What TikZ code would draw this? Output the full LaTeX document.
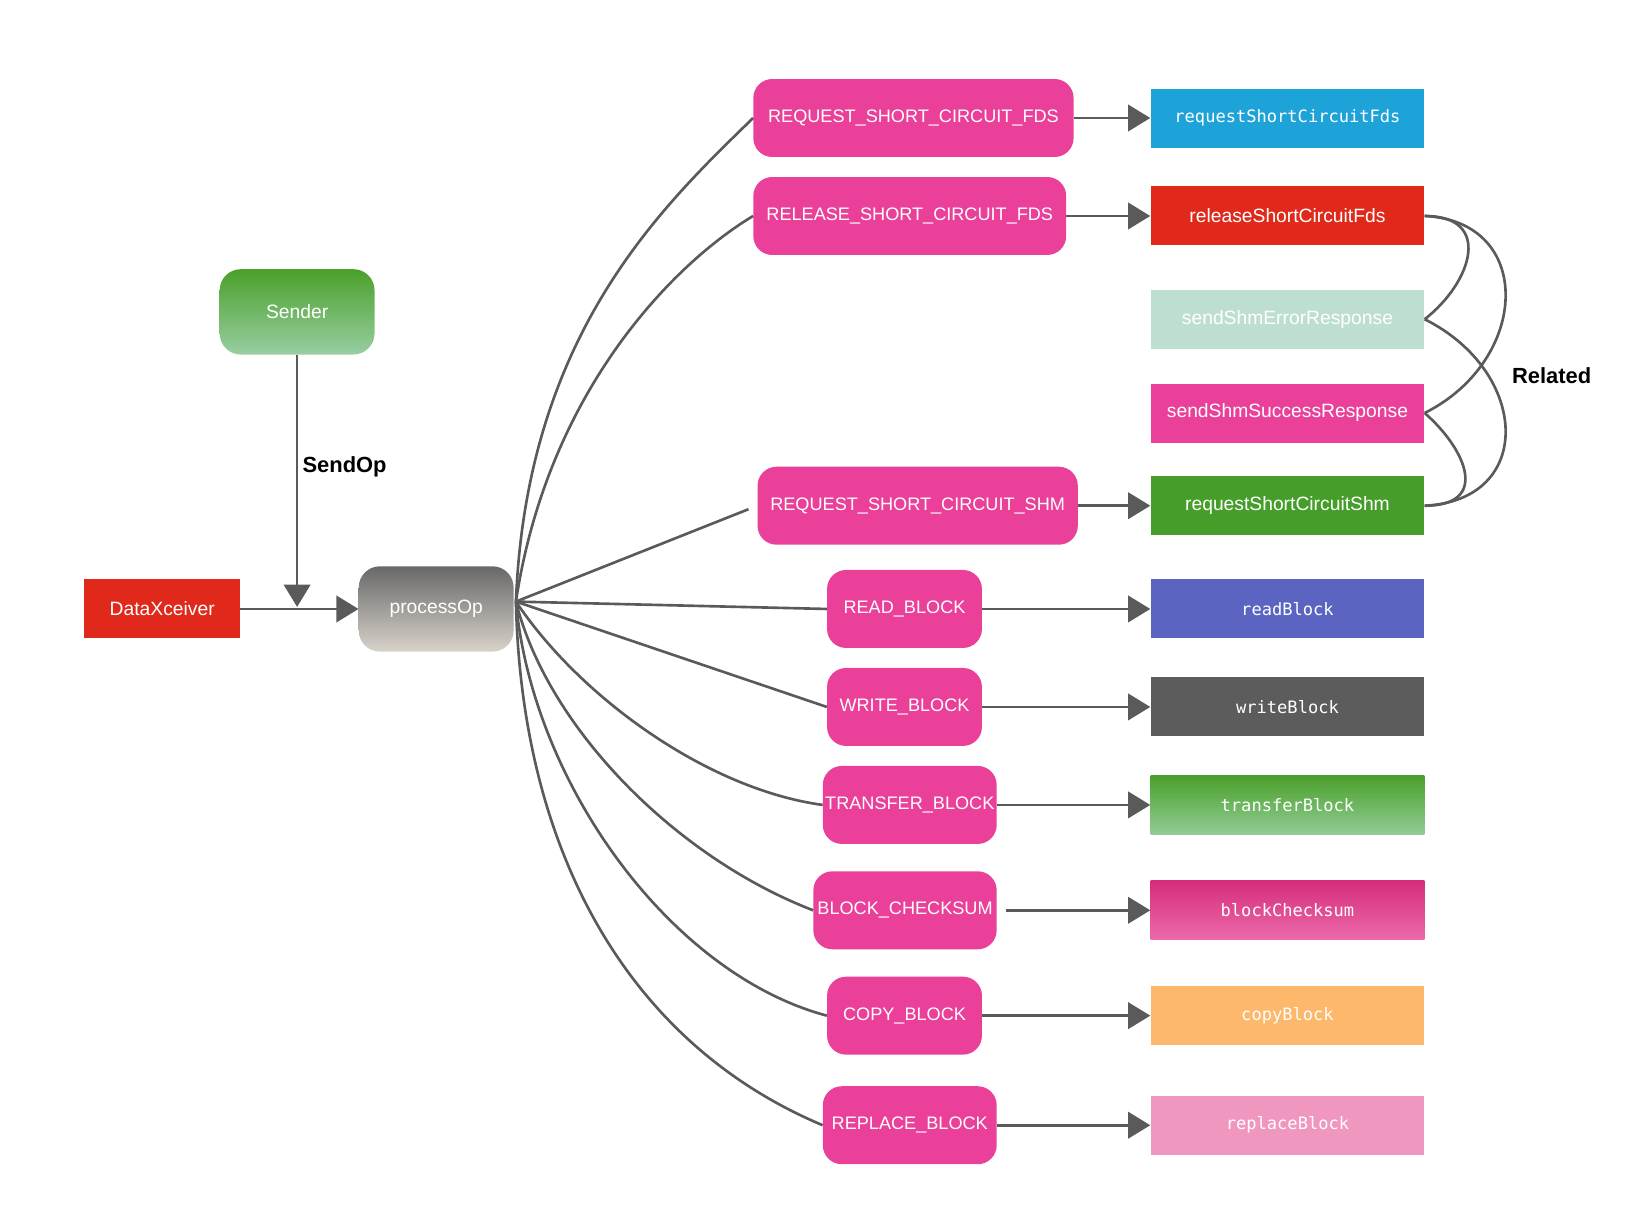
\documentclass[tikz,border=0pt]{standalone}
\usepackage{fontspec}
\setmainfont{Liberation Sans}
\newfontfamily\codefont{DejaVu Sans Mono}
\usetikzlibrary{arrows.meta}

\begin{document}
\begin{tikzpicture}[x=1pt,y=1pt,yscale=-1,xscale=1,
  op/.style={rounded corners=18pt, fill={rgb, 255:red, 234; green, 64; blue, 154 }, text=white, minimum height=74pt, inner xsep=2pt, font=\fontsize{17.2}{20}\selectfont},
  fn/.style={minimum width=260pt, minimum height=56pt, inner sep=0pt, text=white, font=\fontsize{18.3}{22}\selectfont},
  fncode/.style={fn, font=\fontsize{16.2}{20}\selectfont\codefont},
  head/.style={rounded corners=20pt, minimum width=147pt, minimum height=81pt, text=white, font=\fontsize{18.3}{22}\selectfont},
  wire/.style={color={rgb, 255:red, 90; green, 90; blue, 90 }, line width=2.5pt},
  flow/.style={wire, -{Triangle[length=21pt,width=25pt]}},
  tag/.style={inner sep=0pt, font=\fontsize{20.8}{24}\selectfont\bfseries}]
\useasboundingbox (0,0) rectangle (1568,1156);

%Shape: Rounded Rect [sender]
\draw (282,296) node (sender) [head, top color={rgb, 255:red, 74; green, 160; blue, 42 }, bottom color={rgb, 255:red, 152; green, 206; blue, 162 }] {Sender};
%Shape: Rounded Rect [processOp]
\draw (414,578) node (proc) [head, top color={rgb, 255:red, 104; green, 104; blue, 104 }, bottom color={rgb, 255:red, 216; green, 211; blue, 202 }] {processOp};
%Shape: Rectangle [DataXceiver]
\draw (154,578) node (dxc) [minimum width=148pt, minimum height=56pt, fill={rgb, 255:red, 224; green, 41; blue, 27 }, text=white, font=\fontsize{18.3}{22}\selectfont] {DataXceiver};

\coordinate (join) at (282,576);
\coordinate (fan) at ([xshift=2pt,yshift=-7pt]proc.east);

% Op nodes
\draw (867,112) node (opReqFds) [op, minimum width=304pt] {REQUEST\_SHORT\_CIRCUIT\_FDS};
\draw (863.5,205) node (opRelFds) [op, minimum width=297pt] {RELEASE\_SHORT\_CIRCUIT\_FDS};
\draw (871,480) node (opReqShm) [op, minimum width=304pt] {REQUEST\_SHORT\_CIRCUIT\_SHM};
\draw (858.5,578) node (opRead) [op, minimum width=147pt] {READ\_BLOCK};
\draw (858.5,671) node (opWrite) [op, minimum width=147pt] {WRITE\_BLOCK};
\draw (863.5,764) node (opTransfer) [op, minimum width=165pt] {TRANSFER\_BLOCK};
\draw (859,864) node (opChecksum) [op, minimum width=174pt] {BLOCK\_CHECKSUM};
\draw (858.5,964) node (opCopy) [op, minimum width=147pt] {COPY\_BLOCK};
\draw (863.5,1068) node (opReplace) [op, minimum width=165pt] {REPLACE\_BLOCK};

% Handler nodes
\draw (1222,112) node (fnReqFds) [fncode, fill={rgb, 255:red, 30; green, 163; blue, 217 }] {requestShortCircuitFds};
\draw (1222,205) node (fnRelFds) [fn, fill={rgb, 255:red, 224; green, 41; blue, 27 }] {releaseShortCircuitFds};
\draw (1222,303) node (fnShmErr) [fn, fill={rgb, 255:red, 190; green, 223; blue, 208 }] {sendShmErrorResponse};
\draw (1222,392) node (fnShmOk) [fn, fill={rgb, 255:red, 234; green, 64; blue, 154 }] {sendShmSuccessResponse};
\draw (1222,480) node (fnReqShm) [fn, fill={rgb, 255:red, 70; green, 158; blue, 42 }] {requestShortCircuitShm};
\draw (1222,578) node (fnRead) [fncode, fill={rgb, 255:red, 91; green, 100; blue, 192 }] {readBlock};
\draw (1222,671) node (fnWrite) [fncode, fill={rgb, 255:red, 92; green, 92; blue, 92 }] {writeBlock};
\draw (1222,764) node (fnTransfer) [fncode, top color={rgb, 255:red, 74; green, 160; blue, 42 }, bottom color={rgb, 255:red, 146; green, 204; blue, 150 }] {transferBlock};
\draw (1222,864) node (fnChecksum) [fncode, top color={rgb, 255:red, 214; green, 45; blue, 124 }, bottom color={rgb, 255:red, 236; green, 106; blue, 172 }] {blockChecksum};
\draw (1222,964) node (fnCopy) [fncode, fill={rgb, 255:red, 253; green, 184; blue, 108 }] {copyBlock};
\draw (1222,1068) node (fnReplace) [fncode, fill={rgb, 255:red, 239; green, 151; blue, 190 }] {replaceBlock};

% Text Node
\draw (287,443) node (sendop) [tag, anchor=west] {SendOp};
% Text Node
\draw (1435,357) node (related) [tag, anchor=west] {Related};

%Straight Lines
\draw [flow] (sender) -- (join);
\draw [flow] (dxc) -- (proc);

%Curve Lines (fan out of processOp)
\draw [wire] (fan) .. controls +(10,-255) and +(-85,83) .. (opReqFds.west);
\draw [wire] (fan) .. controls +(30,-200) and +(-75,45) .. (opRelFds.west);
\draw [wire, shorten >=9pt] (fan) -- (opReqShm.west);
\draw [wire] (fan) -- (opRead.west);
\draw [wire] (fan) -- (opWrite.west);
\draw [wire] (fan) .. controls +(60,90) and +(-110,-15) .. (opTransfer.west);
\draw [wire] (fan) .. controls +(30,120) and +(-130,-50) .. (opChecksum.west);
\draw [wire] (fan) .. controls +(15,170) and +(-150,-40) .. (opCopy.west);
\draw [wire] (fan) .. controls +(5,230) and +(-190,-80) .. (opReplace.west);

%Straight Lines (op -> handler)
\draw [flow] (opReqFds) -- (fnReqFds);
\draw [flow] (opRelFds) -- (fnRelFds);
\draw [flow] (opReqShm) -- (fnReqShm);
\draw [flow] (opRead) -- (fnRead);
\draw [flow] (opWrite) -- (fnWrite);
\draw [flow] (opTransfer) -- (fnTransfer);
\draw [flow, shorten <=9pt] (opChecksum) -- (fnChecksum);
\draw [flow] (opCopy) -- (fnCopy);
\draw [flow] (opReplace) -- (fnReplace);

%Curve Lines (related)
\draw [wire] (fnRelFds.east) .. controls +(65,0) and +(45,-35) .. (fnShmErr.east);
\draw [wire] (fnReqShm.east) .. controls +(62,0) and +(40,35) .. (fnShmOk.east);
\draw [wire] (fnRelFds.east) .. controls +(105,5) and +(100,-50) .. (fnShmOk.east);
\draw [wire] (fnReqShm.east) .. controls +(105,-5) and +(100,50) .. (fnShmErr.east);

\end{tikzpicture}
\end{document}
